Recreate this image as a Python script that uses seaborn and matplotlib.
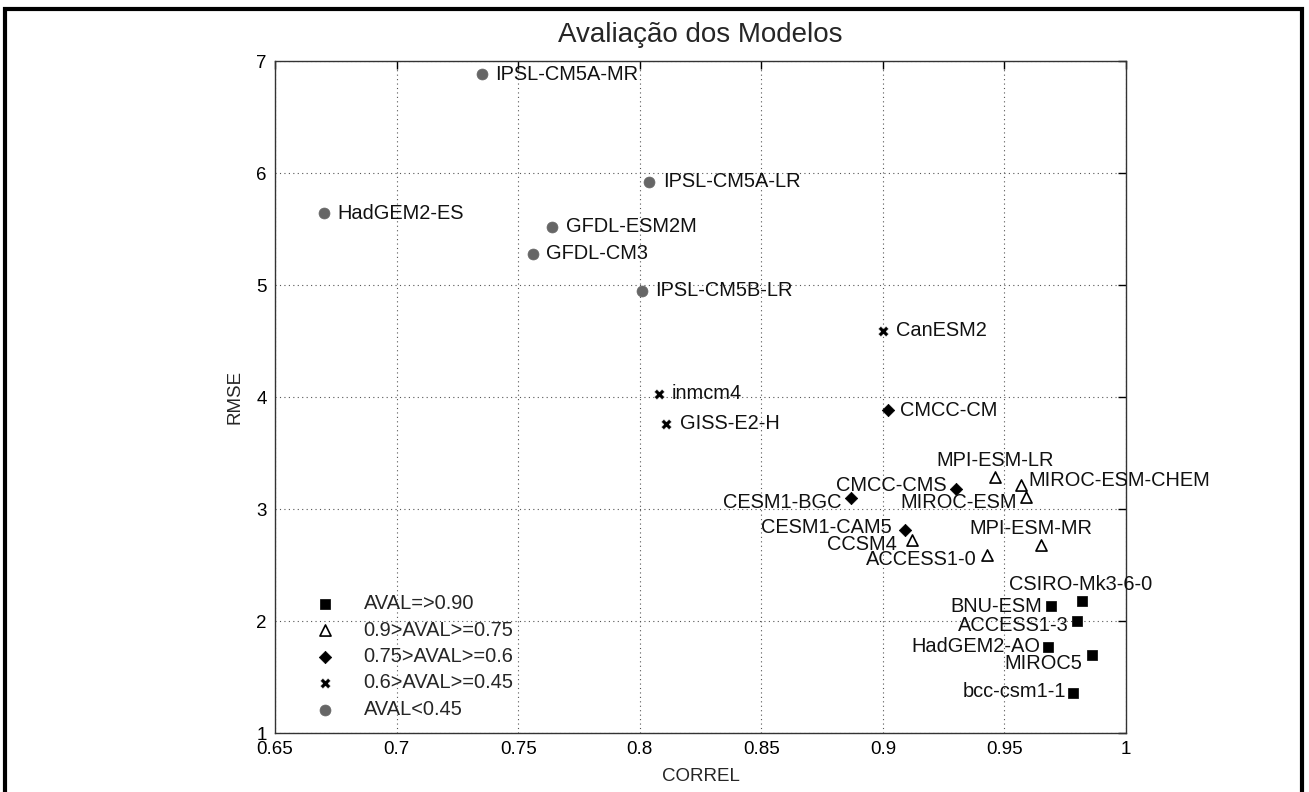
import matplotlib
matplotlib.use("Agg")
import matplotlib.pyplot as plt
import matplotlib.patches as mpatches
import seaborn as sns
import pandas as pd

# ---------------- data ----------------
models = ["IPSL-CM5A-MR", "HadGEM2-ES", "GFDL-ESM2M", "GFDL-CM3", "IPSL-CM5A-LR", "IPSL-CM5B-LR",
          "CanESM2", "inmcm4", "GISS-E2-H",
          "CMCC-CM", "CMCC-CMS", "CESM1-BGC", "CESM1-CAM5",
          "MPI-ESM-LR", "MIROC-ESM-CHEM", "MIROC-ESM", "CCSM4", "ACCESS1-0", "MPI-ESM-MR",
          "CSIRO-Mk3-6-0", "BNU-ESM", "ACCESS1-3", "HadGEM2-AO", "MIROC5", "bcc-csm1-1"]
correl = [0.735, 0.670, 0.764, 0.756, 0.804, 0.801,
          0.900, 0.808, 0.811,
          0.902, 0.930, 0.887, 0.909,
          0.946, 0.957, 0.959, 0.912, 0.943, 0.965,
          0.982, 0.969, 0.980, 0.968, 0.986, 0.978]
rmse = [6.88, 5.64, 5.52, 5.28, 5.92, 4.95,
        4.59, 4.03, 3.76,
        3.88, 3.18, 3.10, 2.81,
        3.29, 3.21, 3.11, 2.72, 2.59, 2.68,
        2.18, 2.13, 2.00, 1.77, 1.70, 1.36]
group = ["AVAL<0.45"] * 6 + ["0.6>AVAL>=0.45"] * 3 + ["0.75>AVAL>=0.6"] * 4 + \
        ["0.9>AVAL>=0.75"] * 6 + ["AVAL=>0.90"] * 6
legend_order = ["AVAL=>0.90", "0.9>AVAL>=0.75", "0.75>AVAL>=0.6", "0.6>AVAL>=0.45", "AVAL<0.45"]
xticks = [0.65, 0.7, 0.75, 0.8, 0.85, 0.9, 0.95, 1.0]
xticklabels = ["0.65", "0.7", "0.75", "0.8", "0.85", "0.9", "0.95", "1"]
yticks = [1, 2, 3, 4, 5, 6, 7]

df = pd.DataFrame({"model": models, "CORREL": correl, "RMSE": rmse, "group": group})

# ---------------- styles ----------------
group_style = {
    "AVAL=>0.90":     dict(marker="s", s=42, color="black", edgecolor="black", linewidth=0.5),
    "0.9>AVAL>=0.75": dict(marker="^", s=64, color="white", edgecolor="black", linewidth=1.2),
    "0.75>AVAL>=0.6": dict(marker="D", s=40, color="black", edgecolor="black", linewidth=0.5),
    "0.6>AVAL>=0.45": dict(marker="X", s=55, color="black", edgecolor="white", linewidth=0.3),
    "AVAL<0.45":      dict(marker="o", s=62, color="#666666", edgecolor="#666666", linewidth=0.5),
}
# label placement: (dx, dy in points, ha)
R = (9.7, 0, "left")
label_pos = {
    "IPSL-CM5A-MR": R, "HadGEM2-ES": R, "GFDL-ESM2M": R, "GFDL-CM3": R, "IPSL-CM5A-LR": R,
    "IPSL-CM5B-LR": R, "CanESM2": R, "inmcm4": (9.0, 0, "left"), "GISS-E2-H": R, "CMCC-CM": (9.0, 0, "left"),
    "CMCC-CMS": (-6.3, 2.6, "right"), "CESM1-BGC": (-6.7, -3.4, "right"),
    "CESM1-CAM5": (-9.4, 2.0, "right"), "MPI-ESM-LR": (0, 11.5, "center"),
    "MIROC-ESM-CHEM": (5.3, 3.6, "left"), "MIROC-ESM": (-6.7, -4.3, "right"),
    "CCSM4": (-10.8, -3.3, "right"), "ACCESS1-0": (-7.7, -3.4, "right"),
    "MPI-ESM-MR": (-7.3, 11.5, "center"), "CSIRO-Mk3-6-0": (-1, 11.5, "center"),
    "BNU-ESM": (-6.3, 0, "right"), "ACCESS1-3": (-6.0, -2.9, "right"),
    "HadGEM2-AO": (-5.5, 0.5, "right"), "MIROC5": (-6.7, -6.5, "right"),
    "bcc-csm1-1": (-4.8, 0.7, "right"),
}

sns.set_style("white")
plt.rcParams["font.family"] = ["Liberation Sans", "DejaVu Sans"]

fig = plt.figure(figsize=(13.09, 7.92), dpi=100)
ax = fig.add_axes([275 / 1309, 1 - 733 / 792, (1126 - 275) / 1309, (733 - 61) / 792])

for g in legend_order:
    sub = df[df["group"] == g]
    sns.scatterplot(data=sub, x="CORREL", y="RMSE", ax=ax, label=g, zorder=3, **group_style[g])

for m, x, y in zip(models, correl, rmse):
    dx, dy, ha = label_pos[m]
    ax.annotate(m, (x, y), xytext=(dx, dy), textcoords="offset points",
                ha=ha, va="center", fontsize=14.4, color="#111111", zorder=4)

ax.set_xlim(0.65, 1.0)
ax.set_ylim(1, 7)
ax.set_xticks(xticks)
ax.set_xticklabels(xticklabels)
ax.set_yticks(yticks)
ax.tick_params(direction="in", top=True, right=True, length=6, width=1,
               labelsize=13.5, pad=6, colors="black")
ax.grid(True, linestyle=(0, (1, 3)), color="#555555", linewidth=0.8)
for sp in ax.spines.values():
    sp.set_visible(True)
    sp.set_color("#333333")
    sp.set_linewidth(1.0)

ax.set_xlabel("CORREL", fontsize=13.5, labelpad=7)
ax.set_ylabel("RMSE", fontsize=13.5, labelpad=9)
ax.set_title("Avaliação dos Modelos", fontsize=20, pad=14)

leg = ax.legend(loc="lower left", bbox_to_anchor=(0.0347, 0.021), frameon=False, fontsize=14.4,
                handlelength=2.0, handletextpad=0.95, labelspacing=0.37, borderpad=0,
                borderaxespad=0)

# figure border
fig.patches.append(mpatches.Rectangle((5 / 1309, -0.02), (1302 - 5) / 1309, 1.02 - 9 / 792,
                                      transform=fig.transFigure, fill=False,
                                      edgecolor="black", linewidth=3, zorder=10))

fig.savefig("out.png", dpi=100, facecolor="white")
